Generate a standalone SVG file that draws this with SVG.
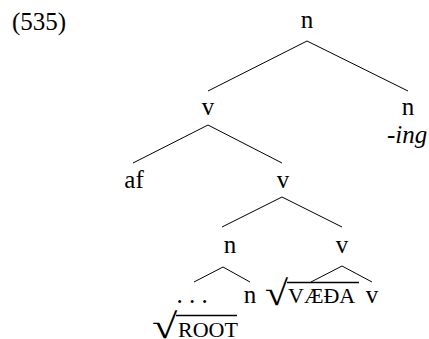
<svg xmlns="http://www.w3.org/2000/svg" width="429" height="339" viewBox="0 0 429 339">
<style>
text{font-family:"Liberation Serif","Times New Roman",serif;font-size:25px;fill:#000}
.c{text-anchor:middle}
.sc{font-size:22px}
.it{font-style:italic}
.rad{font-size:35px}
line{stroke:#000;stroke-width:1}
</style>
<rect width="429" height="339" fill="#fff"/>
<text id="ex" x="12" y="30">(535)</text>
<g id="connectors">
<line x1="307" y1="41" x2="208" y2="91"/>
<line x1="307" y1="41" x2="408" y2="91"/>
<line x1="208" y1="125" x2="133" y2="163"/>
<line x1="208" y1="125" x2="282" y2="163"/>
<line x1="282" y1="197" x2="222" y2="227"/>
<line x1="282" y1="197" x2="342" y2="227"/>
<line x1="223" y1="267" x2="194" y2="282"/>
<line x1="223" y1="267" x2="250" y2="282"/>
<line x1="342" y1="266" x2="311" y2="282"/>
<line x1="342" y1="266" x2="372" y2="282"/>
</g>
<g id="n-top"><text class="c" x="307" y="28">n</text></g>
<g id="v1"><text class="c" x="208" y="115">v</text></g>
<g id="n-ing"><text class="c" x="408" y="115">n</text><text class="it" x="387" y="143">-ing</text></g>
<g id="af"><text class="c" x="134" y="188">af</text></g>
<g id="v2"><text class="c" x="283" y="188">v</text></g>
<g id="n2"><text class="c" x="230" y="253">n</text></g>
<g id="v3"><text class="c" x="342" y="253">v</text></g>
<g id="root-leaf"><text class="c" x="192" y="303">. . .</text><text class="rad" transform="translate(152,338) scale(1.32,1)">√</text><line x1="176" y1="315.5" x2="237" y2="315.5" style="stroke-width:1.5"/><text class="sc" x="178" y="337">ROOT</text></g>
<g id="n3"><text class="c" x="250" y="303">n</text></g>
<g id="vaeda"><text class="rad" transform="translate(265,305) scale(1.2,1)">√</text><line x1="287" y1="282.5" x2="359" y2="282.5" style="stroke-width:1.5"/><text class="sc" x="288" y="303">VÆÐA</text></g>
<g id="v4"><text class="c" x="372" y="303">v</text></g>
</svg>
